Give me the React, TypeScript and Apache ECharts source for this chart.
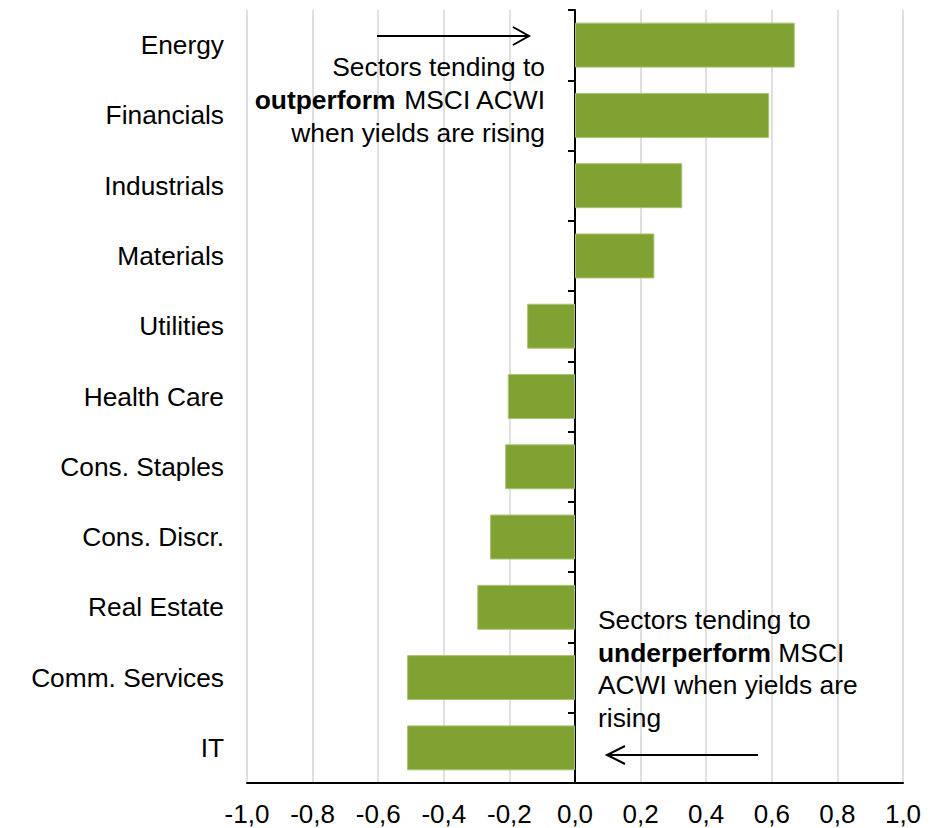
import React, { useEffect, useRef } from "react";
import * as echarts from "echarts";

const categories = [
  "Energy",
  "Financials",
  "Industrials",
  "Materials",
  "Utilities",
  "Health Care",
  "Cons. Staples",
  "Cons. Discr.",
  "Real Estate",
  "Comm. Services",
  "IT",
];

const values = [0.67, 0.592, 0.327, 0.242, -0.146, -0.205, -0.213, -0.259, -0.298, -0.512, -0.512];

const xMin = -1.0;
const xMax = 1.0;
const xStep = 0.2;

const topNote = ["Sectors tending to", "{b|outperform} MSCI ACWI", "when yields are rising"];
const bottomNote = ["Sectors tending to", "{b|underperform} MSCI", "ACWI when yields are", "rising"];

const FONT = "'Liberation Sans', Arial, Helvetica, sans-serif";

export default function App() {
  const ref = useRef<HTMLDivElement>(null);

  useEffect(() => {
    if (!ref.current) return;
    const chart = echarts.init(ref.current, undefined, { renderer: "svg" });

    const fmt = (v: number) => (Math.abs(v) < 1e-9 ? "0,0" : v.toFixed(1).replace(".", ","));

    chart.setOption({
      animation: false,
      backgroundColor: "#ffffff",
      textStyle: { fontFamily: FONT },
      grid: { left: 247, right: 35, top: 10, bottom: 45, containLabel: false },
      xAxis: {
        type: "value",
        min: xMin,
        max: xMax,
        interval: xStep,
        axisLine: { show: true, onZero: false, lineStyle: { color: "#000", width: 2 } },
        axisTick: { show: false },
        axisLabel: {
          formatter: fmt,
          fontSize: 26,
          lineHeight: 26,
          color: "#000",
          fontFamily: FONT,
          margin: 18,
        },
        splitLine: { show: true, lineStyle: { color: "#D4D4D4", width: 1.5 } },
      },
      yAxis: [
        {
          type: "category",
          data: categories,
          inverse: true,
          position: "left",
          axisLine: { show: false, onZero: false },
          axisTick: { show: false },
          axisLabel: { fontSize: 26.3, color: "#000", fontFamily: FONT, margin: 23 },
          splitLine: { show: false },
        },
        {
          type: "category",
          data: categories,
          inverse: true,
          position: "left",
          axisLine: { show: true, onZero: true, onZeroAxisIndex: 0, lineStyle: { color: "#000", width: 2 } },
          axisTick: { show: true, length: 7, lineStyle: { color: "#000", width: 2 } },
          axisLabel: { show: false },
          splitLine: { show: false },
        },
      ],
      series: [
        {
          type: "bar",
          data: values,
          xAxisIndex: 0,
          yAxisIndex: 0,
          barCategoryGap: "36%",
          itemStyle: { color: "#7FA232", borderColor: "#A9C575", borderWidth: 1 },
          z: 1,
        },
      ],
      graphic: [
        {
          type: "text",
          x: 545,
          y: 50,
          z: 10,
          style: {
            text: topNote.join("\n"),
            align: "right",
            verticalAlign: "top",
            fontSize: 26.4,
            fontFamily: FONT,
            fill: "#000",
            lineHeight: 33,
            rich: {
              b: { fontWeight: "bold", fontSize: 26.4, fontFamily: FONT, fill: "#000", lineHeight: 33 },
            },
          },
        },
        {
          type: "text",
          x: 598,
          y: 604,
          z: 10,
          style: {
            text: bottomNote.join("\n"),
            align: "left",
            verticalAlign: "top",
            fontSize: 26.4,
            fontFamily: FONT,
            fill: "#000",
            lineHeight: 32.5,
            rich: {
              b: { fontWeight: "bold", fontSize: 26.4, fontFamily: FONT, fill: "#000", lineHeight: 32.5 },
            },
          },
        },
        {
          type: "line",
          z: 10,
          shape: { x1: 377, y1: 36, x2: 529, y2: 36 },
          style: { stroke: "#000", lineWidth: 2 },
        },
        {
          type: "polyline",
          z: 10,
          shape: { points: [[513, 27], [529, 36], [513, 45]] },
          style: { stroke: "#000", lineWidth: 2, fill: null },
        },
        {
          type: "line",
          z: 10,
          shape: { x1: 607, y1: 755, x2: 758, y2: 755 },
          style: { stroke: "#000", lineWidth: 2 },
        },
        {
          type: "polyline",
          z: 10,
          shape: { points: [[625, 746], [607, 755], [625, 764]] },
          style: { stroke: "#000", lineWidth: 2, fill: null },
        },
      ],
    });

    return () => chart.dispose();
  }, []);

  return (
    <div
      ref={ref}
      style={{ position: "absolute", left: 0, top: 0, width: 938, height: 828, background: "#fff" }}
    />
  );
}
